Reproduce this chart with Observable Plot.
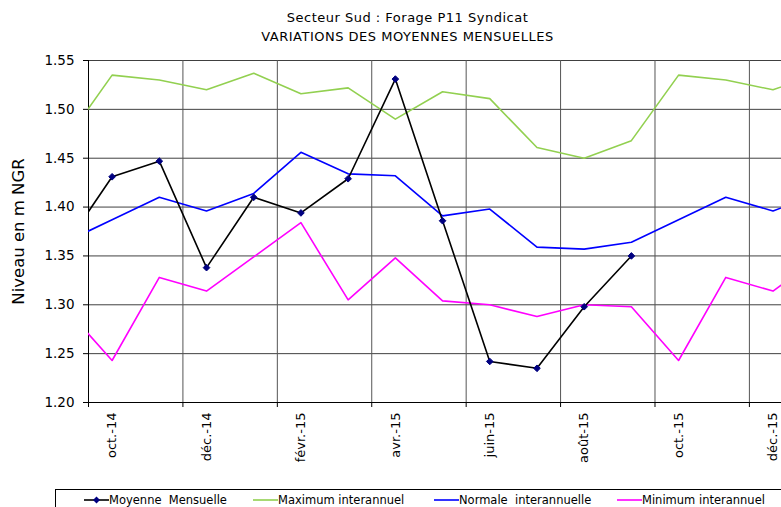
<!DOCTYPE html>
<html>
<head>
<meta charset="utf-8">
<script src="https://cdn.jsdelivr.net/npm/d3@7"></script>
<script src="https://cdn.jsdelivr.net/npm/@observablehq/plot@0.6"></script>
<style>
  html, body { margin: 0; padding: 0; background: #fff; }
  #wrap { position: relative; width: 781px; height: 507px; overflow: hidden; font-family: "DejaVu Sans", Verdana, sans-serif; }
  #title { position: absolute; left: 0; top: 8px; width: 815px; text-align: center; font-size: 13px; letter-spacing: 0.5px; line-height: 19px; color: #000; }
  #legend { position: absolute; left: 55px; top: 489px; width: 800px; height: 30px; border-top: 1px solid #000; border-left: 1px solid #000; font-size: 11.5px; }
  .item { position: absolute; top: 3px; white-space: pre; display: flex; align-items: center; }
  .item svg { display: block; }
  #chart { position: absolute; left: 0; top: 0; }
</style>
</head>
<body>
<div id="wrap">
  <div id="chart"></div>
  <div id="title">Secteur Sud : Forage P11 Syndicat<br>VARIATIONS DES MOYENNES MENSUELLES</div>
  <div id="legend"></div>
</div>
<script>
// Month index 0 = sept.-14
const monthLabels = ["sept.-14","oct.-14","nov.-14","déc.-14","janv.-15","févr.-15","mars-15","avr.-15","mai-15","juin-15","juil.-15","août-15","sept.-15","oct.-15","nov.-15","déc.-15","janv.-16"];
const labelIdx = [1, 3, 5, 7, 9, 11, 13, 15];
const moyenne = [1.360, 1.431, 1.447, 1.338, 1.410, 1.394, 1.429, 1.531, 1.386, 1.242, 1.235, 1.298, 1.350];
const maximum = [1.467, 1.535, 1.530, 1.520, 1.537, 1.516, 1.522, 1.490, 1.518, 1.511, 1.461, 1.450, 1.468, 1.535, 1.530, 1.520, 1.537];
const normale = [1.364, 1.387, 1.410, 1.396, 1.414, 1.456, 1.434, 1.432, 1.391, 1.398, 1.359, 1.357, 1.364, 1.387, 1.410, 1.396, 1.414];
const minimum = [1.297, 1.243, 1.328, 1.314, 1.349, 1.384, 1.305, 1.348, 1.304, 1.300, 1.288, 1.300, 1.298, 1.243, 1.328, 1.314, 1.349];
const yTicks = [1.20, 1.25, 1.30, 1.35, 1.40, 1.45, 1.50, 1.55];
const seriesNames = ["Moyenne  Mensuelle", "Maximum interannuel", "Normale  interannuelle", "Minimum interannuel"];
const seriesColors = ["#000000", "#92D050", "#0000FF", "#FF00FF"];

const gridX = [0.5, 2.5, 4.5, 6.5, 8.5, 10.5, 12.5, 14.5];
const toRows = arr => arr.map((v, i) => ({i, v}));

const chart = Plot.plot({
  width: 781,
  height: 489,
  marginLeft: 88,
  marginRight: 0,
  marginTop: 60,
  marginBottom: 87,
  x: {type: "linear", domain: [0.5, 15.18]},
  y: {domain: [1.20, 1.55]},
  style: {fontFamily: "DejaVu Sans, Verdana, sans-serif", fontSize: "12px", color: "#000", background: "transparent"},
  marks: [
    Plot.gridY(yTicks, {stroke: "#000", strokeOpacity: 0.75, strokeWidth: 1}),
    Plot.gridX(gridX, {stroke: "#555", strokeOpacity: 1, strokeWidth: 1}),
    Plot.axisY(yTicks, {tickFormat: d => d.toFixed(2), tickSize: 5, tickPadding: 9, fontSize: 13.5, label: null}),
    Plot.axisX(gridX, {tickSize: 5, tickFormat: () => "", label: null}),
    Plot.axisX(labelIdx, {tickSize: 0, tickRotate: -90, tickPadding: 10, tickFormat: i => monthLabels[i], fontSize: 13, label: null}),
    Plot.ruleX([0.5], {stroke: "#000"}),
    Plot.ruleY([1.20], {stroke: "#000"}),
    Plot.text(["Niveau en m NGR"], {frameAnchor: "left", textAnchor: "middle", dx: -70, rotate: -90, fontSize: 16.5}),
    Plot.line(toRows(maximum), {x: "i", y: "v", stroke: seriesColors[1], strokeWidth: 1.6, clip: true}),
    Plot.line(toRows(normale), {x: "i", y: "v", stroke: seriesColors[2], strokeWidth: 1.6, clip: true}),
    Plot.line(toRows(minimum), {x: "i", y: "v", stroke: seriesColors[3], strokeWidth: 1.6, clip: true}),
    Plot.line(toRows(moyenne), {x: "i", y: "v", stroke: seriesColors[0], strokeWidth: 1.6, clip: true}),
    Plot.dot(toRows(moyenne), {x: "i", y: "v", symbol: "diamond2", fill: "#000080", stroke: "#000080", strokeWidth: 1, r: 3, clip: true})
  ]
});
document.getElementById("chart").appendChild(chart);

// Legend
const legend = document.getElementById("legend");
const legendLeft = [28, 197, 378, 561];
seriesNames.forEach((name, k) => {
  const div = document.createElement("div");
  div.className = "item";
  div.style.left = legendLeft[k] + "px";
  const marker = k === 0 ? '<path d="M12.5,2.5 L16,6 L12.5,9.5 L9,6 Z" fill="#000080"/>' : '';
  div.innerHTML = `<svg width="25" height="12"><line x1="0" y1="6" x2="25" y2="6" stroke="${seriesColors[k]}" stroke-width="1.6"/>${marker}</svg><span>${name}</span>`;
  legend.appendChild(div);
});
</script>
</body>
</html>
